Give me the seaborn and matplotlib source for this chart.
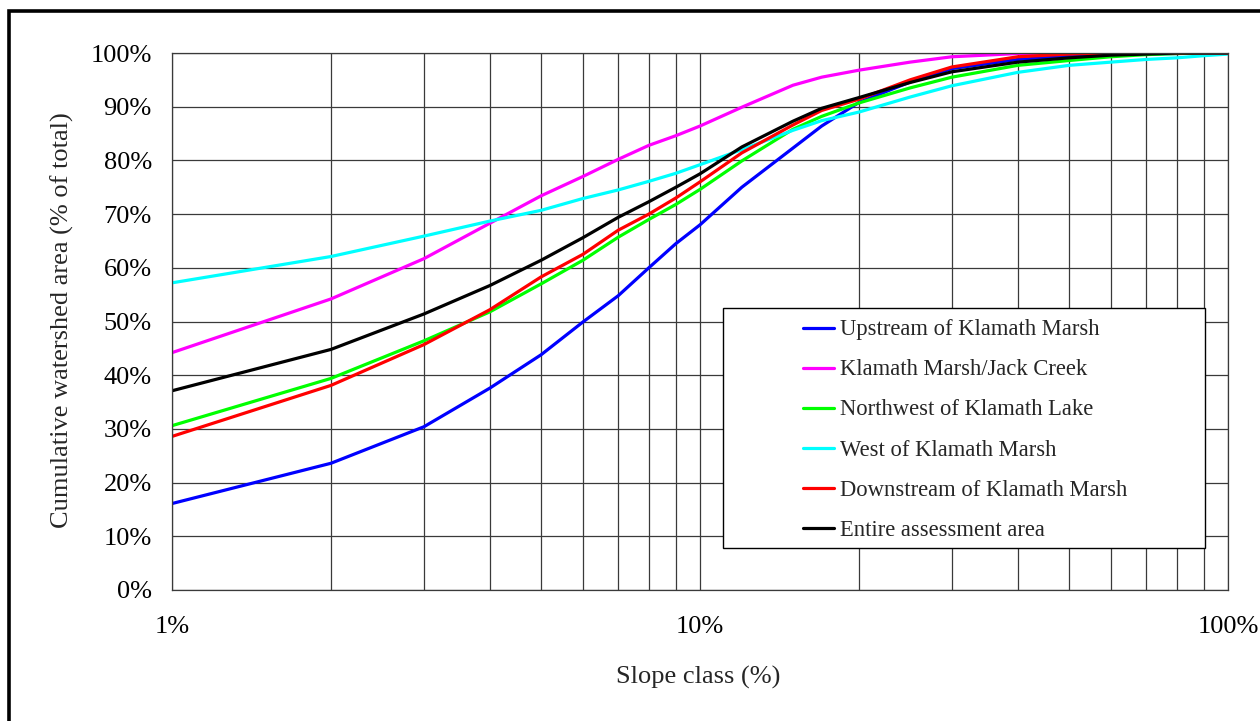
import numpy as np
import pandas as pd
import matplotlib
matplotlib.use("Agg")
import matplotlib.pyplot as plt
import matplotlib.ticker as mticker
from matplotlib.patches import Rectangle
import seaborn as sns

# ---- data -------------------------------------------------------------
slope = [1, 2, 3, 4, 5, 6, 7, 8, 9, 10, 12, 15, 17, 20, 25, 30, 40, 50, 60, 70, 80, 90, 100]

upstream = [16.1, 23.6, 30.4, 37.6, 43.8, 49.9, 54.8, 60.0, 64.5, 68.0, 75.0, 82.3, 86.4,
            90.8, 94.6, 97.1, 98.8, 99.4, 99.7, 99.8, 99.9, 100, 100]
jack_creek = [44.2, 54.2, 61.7, 68.3, 73.4, 77.0, 80.2, 82.8, 84.6, 86.4, 89.9, 94.0, 95.5,
              96.8, 98.3, 99.3, 99.9, 100, 100, 100, 100, 100, 100]
northwest = [30.6, 39.4, 46.4, 51.8, 57.0, 61.4, 65.7, 69.0, 71.8, 74.6, 79.9, 85.8, 88.2,
             90.7, 93.5, 95.5, 97.7, 98.6, 99.3, 99.7, 99.9, 100, 100]
west = [57.2, 62.1, 65.9, 68.7, 70.7, 72.9, 74.5, 76.1, 77.6, 79.2, 82.0, 85.6, 87.4,
        89.0, 91.8, 93.9, 96.4, 97.7, 98.3, 98.8, 99.1, 99.5, 99.8]
downstream = [28.6, 38.1, 45.7, 52.2, 58.3, 62.5, 67.0, 70.0, 73.0, 76.0, 81.4, 86.6, 89.3,
              91.4, 95.0, 97.4, 99.3, 99.8, 100, 100, 100, 100, 100]
entire = [37.1, 44.8, 51.4, 56.7, 61.4, 65.6, 69.4, 72.3, 75.0, 77.5, 82.5, 87.3, 89.7,
          91.7, 94.5, 96.5, 98.3, 99.1, 99.6, 99.8, 100, 100, 100]

regions = ["Upstream of Klamath Marsh", "Klamath Marsh/Jack Creek",
           "Northwest of Klamath Lake", "West of Klamath Marsh",
           "Downstream of Klamath Marsh", "Entire assessment area"]
colors = ["#0000FF", "#FF00FF", "#00FF00", "#00FFFF", "#FF0000", "#000000"]
series = [upstream, jack_creek, northwest, west, downstream, entire]

xticks = [1, 10, 100]
xticklabels = ["1%", "10%", "100%"]
yticks = list(range(0, 101, 10))
yticklabels = [f"{v}%" for v in yticks]

df = pd.concat([pd.DataFrame({"slope": slope, "cum": vals, "region": name})
                for name, vals in zip(regions, series)], ignore_index=True)

# ---- figure -----------------------------------------------------------
sns.set_style("white")
plt.rcParams["font.family"] = ["Liberation Serif", "DejaVu Serif"]

W, H = 1260, 721
fig = plt.figure(figsize=(W / 100, H / 100), dpi=100)
ax = fig.add_axes([172 / W, (H - 590) / H, (1228 - 172) / W, (590 - 53) / H])

sns.lineplot(data=df, x="slope", y="cum", hue="region", hue_order=regions,
             palette=colors, linewidth=2.3, ax=ax, legend=True)

ax.set_xscale("log")
ax.set_xlim(1, 100)
ax.set_ylim(0, 100)
ax.xaxis.set_major_locator(mticker.FixedLocator(xticks))
ax.xaxis.set_major_formatter(mticker.FixedFormatter(xticklabels))
ax.xaxis.set_minor_locator(mticker.LogLocator(base=10, subs=np.arange(2, 10)))
ax.xaxis.set_minor_formatter(mticker.NullFormatter())
ax.set_yticks(yticks)
ax.set_yticklabels(yticklabels)

ax.grid(which="both", axis="x", color="#3a3a3a", linewidth=0.9)
ax.grid(which="major", axis="y", color="#3a3a3a", linewidth=0.9)
ax.set_axisbelow(True)

for s in ax.spines.values():
    s.set_color("#3a3a3a")
    s.set_linewidth(0.9)

ax.tick_params(axis="both", which="major", direction="out", length=6.5,
               width=0.9, color="#3a3a3a", labelsize=19, labelcolor="black")
ax.tick_params(axis="y", which="major", pad=8)
ax.tick_params(axis="x", which="major", pad=12)
ax.tick_params(axis="x", which="minor", length=0)

ax.set_xlabel("Slope class (%)", fontsize=19)
ax.set_ylabel("Cumulative watershed area (% of total)", fontsize=19)
ax.xaxis.set_label_coords((698 - 172) / 1056, (590 - 677) / 537)
ax.xaxis.label.set_va("center")
ax.yaxis.set_label_coords((62 - 172) / 1056, (590 - 320) / 537)
ax.yaxis.label.set_va("center")

# legend box
box = Rectangle((723 / W, (H - 548) / H), (1205 - 723) / W, (548 - 308) / H,
                transform=fig.transFigure, facecolor="white", edgecolor="black",
                linewidth=1.0, zorder=4, clip_on=False)
ax.add_patch(box)
handles, labels = ax.get_legend_handles_labels()
leg = ax.legend(handles, labels, loc="center",
                bbox_to_anchor=(965 / W, (H - 430) / H), bbox_transform=fig.transFigure,
                frameon=False, fontsize=16.3, handlelength=1.4, handletextpad=0.25,
                labelspacing=0.84)
leg.set_zorder(6)
for line in leg.get_lines():
    line.set_linewidth(2.3)

# outer frame (left and top visible)
frame = Rectangle((9.3 / W, -0.5), 2.0, (H - 10.8) / H + 0.5, transform=fig.transFigure,
                  facecolor="none", edgecolor="black", linewidth=2.6)
fig.patches.append(frame)

fig.savefig("out.png", dpi=100)
